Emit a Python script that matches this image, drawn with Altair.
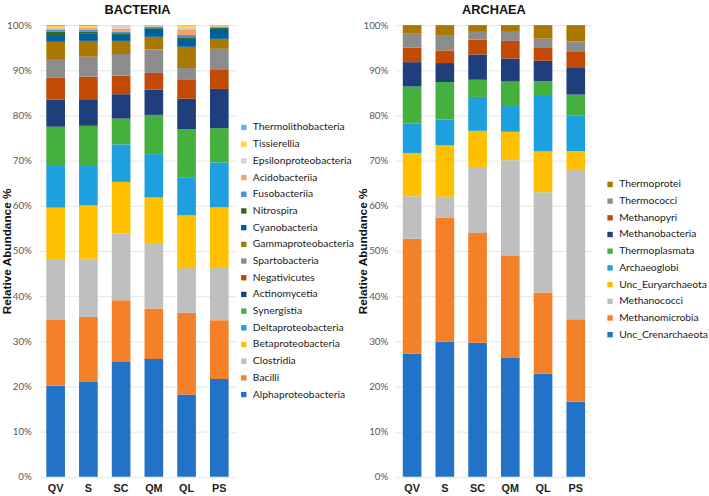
import altair as alt
import pandas as pd

sites = ["QV", "S", "SC", "QM", "QL", "PS"]

# Bacteria classes, bottom of stack to top
bact_classes = ["Alphaproteobacteria", "Bacilli", "Clostridia", "Betaproteobacteria",
                "Deltaproteobacteria", "Synergistia", "Actinomycetia", "Negativicutes",
                "Spartobacteria", "Gammaproteobacteria", "Cyanobacteria", "Nitrospira",
                "Fusobacteriia", "Acidobacteriia", "Epsilonproteobacteria", "Tissierellia",
                "Thermolithobacteria"]
bact_values = [
    [20.2, 21.0, 25.4, 26.1, 18.2, 21.7],
    [14.5, 14.4, 13.7, 11.2, 18.1, 13.0],
    [13.3, 12.9, 14.8, 14.5, 9.9, 11.6],
    [11.6, 11.8, 11.4, 10.1, 11.7, 13.5],
    [9.2, 8.7, 8.3, 9.6, 8.3, 9.9],
    [8.7, 8.9, 5.7, 8.7, 10.8, 7.6],
    [6.0, 5.9, 5.4, 5.6, 6.7, 8.7],
    [4.9, 5.0, 4.1, 3.7, 4.3, 4.2],
    [4.1, 4.4, 4.8, 5.2, 2.5, 4.7],
    [3.8, 3.5, 2.9, 2.8, 4.7, 2.2],
    [1.5, 1.7, 1.3, 1.8, 1.5, 2.2],
    [0.7, 0.4, 0.4, 0.3, 0.6, 0.3],
    [0.5, 0.4, 0.3, 0.2, 0.5, 0.2],
    [0.3, 0.4, 0.7, 0.05, 1.3, 0.1],
    [0.3, 0.2, 0.7, 0.1, 0.3, 0.1],
    [0.2, 0.2, 0.05, 0.05, 0.5, 0.05],
    [0.2, 0.2, 0.05, 0.1, 0.1, 0.1],
]
bact_colors = ["#2272C8", "#F48028", "#BFBFBF", "#FFC000", "#1DA0DD", "#46B03F",
               "#1F3E7C", "#C24A05", "#8C8C8C", "#A87800", "#00609E", "#2D6B22",
               "#4C8FDA", "#F9A06A", "#D3D3D3", "#FFD531", "#5CB8E8"]

# Archaea classes, bottom of stack to top
arch_classes = ["Unc_Crenarchaeota", "Methanomicrobia", "Methanococci", "Unc_Euryarchaeota",
                "Archaeoglobi", "Thermoplasmata", "Methanobacteria", "Methanopyri",
                "Thermococci", "Thermoprotei"]
arch_values = [
    [27.3, 29.9, 29.7, 26.3, 22.9, 16.7],
    [25.4, 27.5, 24.3, 22.6, 17.9, 18.2],
    [9.4, 4.6, 14.6, 21.2, 22.2, 33.0],
    [9.6, 11.4, 8.0, 6.3, 9.1, 4.2],
    [6.5, 5.7, 7.5, 5.7, 12.4, 7.9],
    [8.2, 8.3, 3.8, 5.4, 3.1, 4.6],
    [5.4, 4.2, 5.6, 5.1, 4.5, 5.9],
    [3.2, 2.8, 3.3, 3.9, 3.0, 3.7],
    [3.1, 3.4, 1.7, 2.0, 1.9, 2.2],
    [1.9, 2.2, 1.5, 1.5, 3.0, 3.6],
]
arch_colors = ["#2272C8", "#F48028", "#BFBFBF", "#FFC000", "#1DA0DD", "#46B03F",
               "#1F3E7C", "#C24A05", "#8C8C8C", "#A87800"]

y_ticks = [i / 10 for i in range(11)]


def panel(title, classes, values, colors, lx, ly, tx):
    rows = []
    for ci, (c, vals) in enumerate(zip(classes, values)):
        for s, v in zip(sites, vals):
            rows.append({"site": s, "cls": c, "val": v, "ord": ci})
    df = pd.DataFrame(rows)
    return alt.Chart(df).mark_bar().encode(
        x=alt.X("site:N", sort=sites,
                scale=alt.Scale(paddingInner=0.43, paddingOuter=0.215),
                axis=alt.Axis(title=None, labelAngle=0, labelFont="Liberation Sans",
                              labelFontWeight="bold", labelFontSize=11, labelColor="#222222",
                              labelPadding=6, ticks=False, domain=False, grid=False)),
        y=alt.Y("sum(val):Q", stack="normalize",
                scale=alt.Scale(domain=[0, 1], nice=False),
                axis=alt.Axis(title="Relative Abundance %", values=y_ticks, format=".0%",
                              labelFont="Lato", labelFontSize=10, labelColor="#595959",
                              labelPadding=8, ticks=False, domain=False,
                              gridColor="#E6E6E6",
                              titleFont="Liberation Sans", titleFontWeight="bold",
                              titleFontSize=12, titleColor="#111111",
                              titleX=tx, titleY=230, titleBaseline="middle")),
        color=alt.Color("cls:N",
                        scale=alt.Scale(domain=classes[::-1], range=colors[::-1]),
                        legend=alt.Legend(title=None, orient="none", legendX=lx, legendY=ly,
                                          symbolType="square", symbolSize=30,
                                          symbolStrokeWidth=0, labelFont="Lato",
                                          labelFontSize=10.5, labelColor="#222222",
                                          rowPadding=6, padding=0, labelOffset=4)),
        order=alt.Order("ord:Q", sort="ascending"),
    ).properties(
        width=200, height=460,
        title=alt.TitleParams(title, font="Liberation Sans", fontSize=13, fontWeight="bold",
                              color="#111111", anchor="middle", offset=3),
    )


b = panel("BACTERIA", bact_classes, bact_values, bact_colors, 203, 99, -33)
a = panel("ARCHAEA", arch_classes, arch_values, arch_colors, 213, 157, -34)

chart = alt.hconcat(b, a, spacing=163, bounds="flush").resolve_scale(
    color="independent"
).properties(
    padding={"left": 1, "top": 0, "right": 0, "bottom": 0},
    background="white",
).configure_view(stroke=None)

chart.save("out.html", embed_options={"renderer": "svg", "actions": False})
